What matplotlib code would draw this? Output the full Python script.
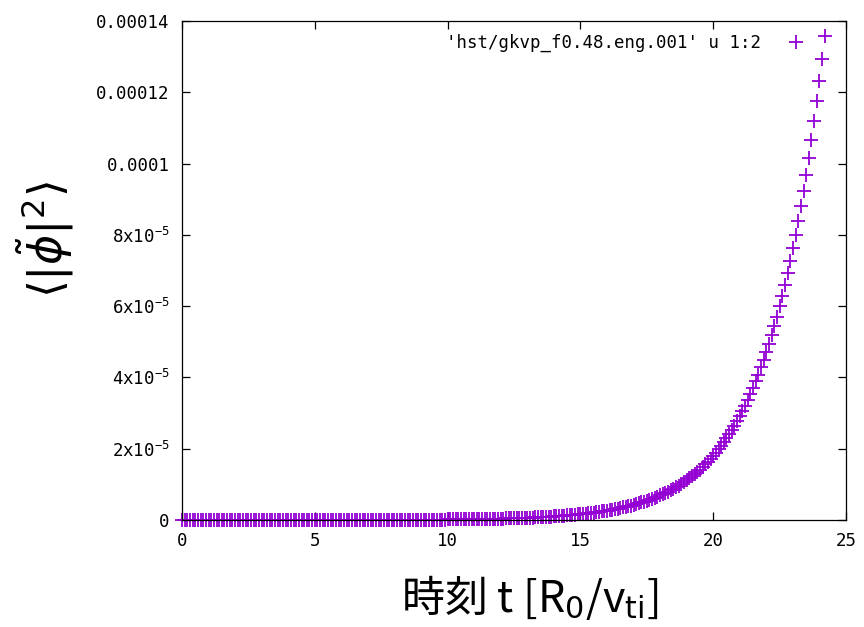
import numpy as np
import matplotlib
matplotlib.use('Agg')
import matplotlib.pyplot as plt

# time column of hst/gkvp_f0.48.eng.001 (R0/vti)
time_t = [
    0.0, 0.1, 0.2, 0.3, 0.4, 0.5, 0.6, 0.7, 0.8, 0.9,
    1.0, 1.1, 1.2, 1.3, 1.4, 1.5, 1.6, 1.7, 1.8, 1.9,
    2.0, 2.1, 2.2, 2.3, 2.4, 2.5, 2.6, 2.7, 2.8, 2.9,
    3.0, 3.1, 3.2, 3.3, 3.4, 3.5, 3.6, 3.7, 3.8, 3.9,
    4.0, 4.1, 4.2, 4.3, 4.4, 4.5, 4.6, 4.7, 4.8, 4.9,
    5.0, 5.1, 5.2, 5.3, 5.4, 5.5, 5.6, 5.7, 5.8, 5.9,
    6.0, 6.1, 6.2, 6.3, 6.4, 6.5, 6.6, 6.7, 6.8, 6.9,
    7.0, 7.1, 7.2, 7.3, 7.4, 7.5, 7.6, 7.7, 7.8, 7.9,
    8.0, 8.1, 8.2, 8.3, 8.4, 8.5, 8.6, 8.7, 8.8, 8.9,
    9.0, 9.1, 9.2, 9.3, 9.4, 9.5, 9.6, 9.7, 9.8, 9.9,
    10.0, 10.1, 10.2, 10.3, 10.4, 10.5, 10.6, 10.7, 10.8, 10.9,
    11.0, 11.1, 11.2, 11.3, 11.4, 11.5, 11.6, 11.7, 11.8, 11.9,
    12.0, 12.1, 12.2, 12.3, 12.4, 12.5, 12.6, 12.7, 12.8, 12.9,
    13.0, 13.1, 13.2, 13.3, 13.4, 13.5, 13.6, 13.7, 13.8, 13.9,
    14.0, 14.1, 14.2, 14.3, 14.4, 14.5, 14.6, 14.7, 14.8, 14.9,
    15.0, 15.1, 15.2, 15.3, 15.4, 15.5, 15.6, 15.7, 15.8, 15.9,
    16.0, 16.1, 16.2, 16.3, 16.4, 16.5, 16.6, 16.7, 16.8, 16.9,
    17.0, 17.1, 17.2, 17.3, 17.4, 17.5, 17.6, 17.7, 17.8, 17.9,
    18.0, 18.1, 18.2, 18.3, 18.4, 18.5, 18.6, 18.7, 18.8, 18.9,
    19.0, 19.1, 19.2, 19.3, 19.4, 19.5, 19.6, 19.7, 19.8, 19.9,
    20.0, 20.1, 20.2, 20.3, 20.4, 20.5, 20.6, 20.7, 20.8, 20.9,
    21.0, 21.1, 21.2, 21.3, 21.4, 21.5, 21.6, 21.7, 21.8, 21.9,
    22.0, 22.1, 22.2, 22.3, 22.4, 22.5, 22.6, 22.7, 22.8, 22.9,
    23.0, 23.1, 23.2, 23.3, 23.4, 23.5, 23.6, 23.7, 23.8, 23.9,
    24.0, 24.1, 24.2,
]

# <|phi~|^2> in units of 1e-6
phi_sq = [
    0.00120, 0.00126, 0.00132, 0.00139, 0.00145, 0.00153, 0.00160, 0.00168, 0.00176, 0.00185,
    0.00193, 0.00203, 0.00212, 0.00223, 0.00234, 0.00245, 0.00258, 0.00270, 0.00284, 0.00298,
    0.00313, 0.00328, 0.00345, 0.00362, 0.00379, 0.00398, 0.00418, 0.00438, 0.00460, 0.00483,
    0.00506, 0.00531, 0.00557, 0.00585, 0.00613, 0.00644, 0.00675, 0.00709, 0.00744, 0.00780,
    0.00819, 0.00859, 0.00902, 0.00946, 0.00993, 0.0104, 0.0109, 0.0115, 0.0120, 0.0126,
    0.0133, 0.0139, 0.0146, 0.0153, 0.0161, 0.0169, 0.0177, 0.0186, 0.0195, 0.0204,
    0.0214, 0.0225, 0.0236, 0.0247, 0.0259, 0.0272, 0.0286, 0.0300, 0.0314, 0.0330,
    0.0347, 0.0364, 0.0382, 0.0401, 0.0421, 0.0441, 0.0463, 0.0486, 0.0510, 0.0535,
    0.0561, 0.0589, 0.0618, 0.0648, 0.0680, 0.0714, 0.0749, 0.0786, 0.0824, 0.0865,
    0.0907, 0.0952, 0.0999, 0.105, 0.110, 0.115, 0.121, 0.127, 0.133, 0.140,
    0.147, 0.154, 0.162, 0.170, 0.178, 0.187, 0.196, 0.206, 0.216, 0.226,
    0.238, 0.249, 0.261, 0.274, 0.288, 0.302, 0.317, 0.333, 0.349, 0.366,
    0.384, 0.403, 0.423, 0.444, 0.465, 0.488, 0.513, 0.538, 0.564, 0.592,
    0.621, 0.652, 0.684, 0.717, 0.753, 0.790, 0.829, 0.870, 0.913, 0.957,
    1.005, 1.055, 1.107, 1.161, 1.218, 1.278, 1.341, 1.407, 1.477, 1.549,
    1.626, 1.706, 1.790, 1.879, 1.971, 2.068, 2.170, 2.277, 2.389, 2.507,
    2.630, 2.760, 2.896, 3.038, 3.188, 3.345, 3.510, 3.683, 3.865, 4.055,
    4.250, 4.460, 4.679, 4.910, 5.152, 5.406, 5.672, 5.952, 6.245, 6.553,
    6.880, 7.219, 7.575, 7.948, 8.340, 8.751, 9.183, 9.635, 10.11, 10.61,
    11.13, 11.68, 12.25, 12.86, 13.49, 14.16, 14.86, 15.59, 16.35, 17.16,
    18.00, 18.89, 19.82, 20.80, 21.82, 22.90, 24.02, 25.21, 26.45, 27.75,
    29.12, 30.56, 32.06, 33.64, 35.30, 37.04, 38.87, 40.78, 42.79, 44.90,
    47.10, 49.42, 51.86, 54.41, 57.09, 59.91, 62.86, 65.96, 69.21, 72.62,
    76.20, 79.96, 83.90, 88.03, 92.37, 96.93, 101.7, 106.7, 112.0, 117.5,
    123.3, 129.4, 135.7,
]
UNIT = 1e-6

xticks = [0, 5, 10, 15, 20, 25]
yticks = [0, 2e-5, 4e-5, 6e-5, 8e-5, 1e-4, 1.2e-4, 1.4e-4]
ylabels = ['0', r'$\mathdefault{2x10^{-5}}$', r'$\mathdefault{4x10^{-5}}$',
           r'$\mathdefault{6x10^{-5}}$', r'$\mathdefault{8x10^{-5}}$',
           '0.0001', '0.00012', '0.00014']
legend_label = "'hst/gkvp_f0.48.eng.001' u 1:2"

# gnuplot terminal font is fixed-width
plt.rcParams['font.family'] = 'DejaVu Sans Mono'
plt.rcParams['mathtext.fontset'] = 'custom'
plt.rcParams['mathtext.rm'] = 'DejaVu Sans Mono'
plt.rcParams['mathtext.it'] = 'DejaVu Sans Mono:italic'
plt.rcParams['mathtext.bf'] = 'DejaVu Sans Mono:bold'

t = np.array(time_t)
y = np.array(phi_sq) * UNIT

fig = plt.figure(figsize=(8.64, 6.27), dpi=100)
ax = fig.add_axes([182 / 864, 1 - 520 / 627, 664 / 864, 499 / 627])

ax.plot(t, y, linestyle='none', marker='+', color='#9400D3',
        markersize=9.5, markeredgewidth=1.3, clip_on=False, label=legend_label)

ax.set_xlim(0, 25)
ax.set_ylim(0, 1.4e-4)
ax.set_xticks(xticks)
ax.set_yticks(yticks, labels=ylabels)
ax.tick_params(direction='in', length=6, width=0.9, top=True, right=True,
               labelsize=12.5, pad=9, colors='black')
for s in ax.spines.values():
    s.set_linewidth(0.9)

# gnuplot-style key, sample to the right of the text
ax.legend(loc='upper right', bbox_to_anchor=(0.953, 0.988), frameon=False,
          markerfirst=False, fontsize=12.5, handlelength=1.4,
          handletextpad=1.3, borderaxespad=0.0)

fig.text(45 / 864, 1 - 240 / 627, r'$\langle|\tilde{\phi}|^2\rangle$',
         rotation=90, ha='center', va='center', fontsize=33,
         math_fontfamily='dejavusans')
fig.text(530 / 864, 1 - 598 / 627, r'時刻 t [R$_0$/v$_{\mathrm{ti}}$]',
         family=['Noto Sans CJK JP', 'DejaVu Sans'], math_fontfamily='dejavusans',
         ha='center', va='center', fontsize=31)

plt.savefig('out.png', dpi=100)
plt.close()
